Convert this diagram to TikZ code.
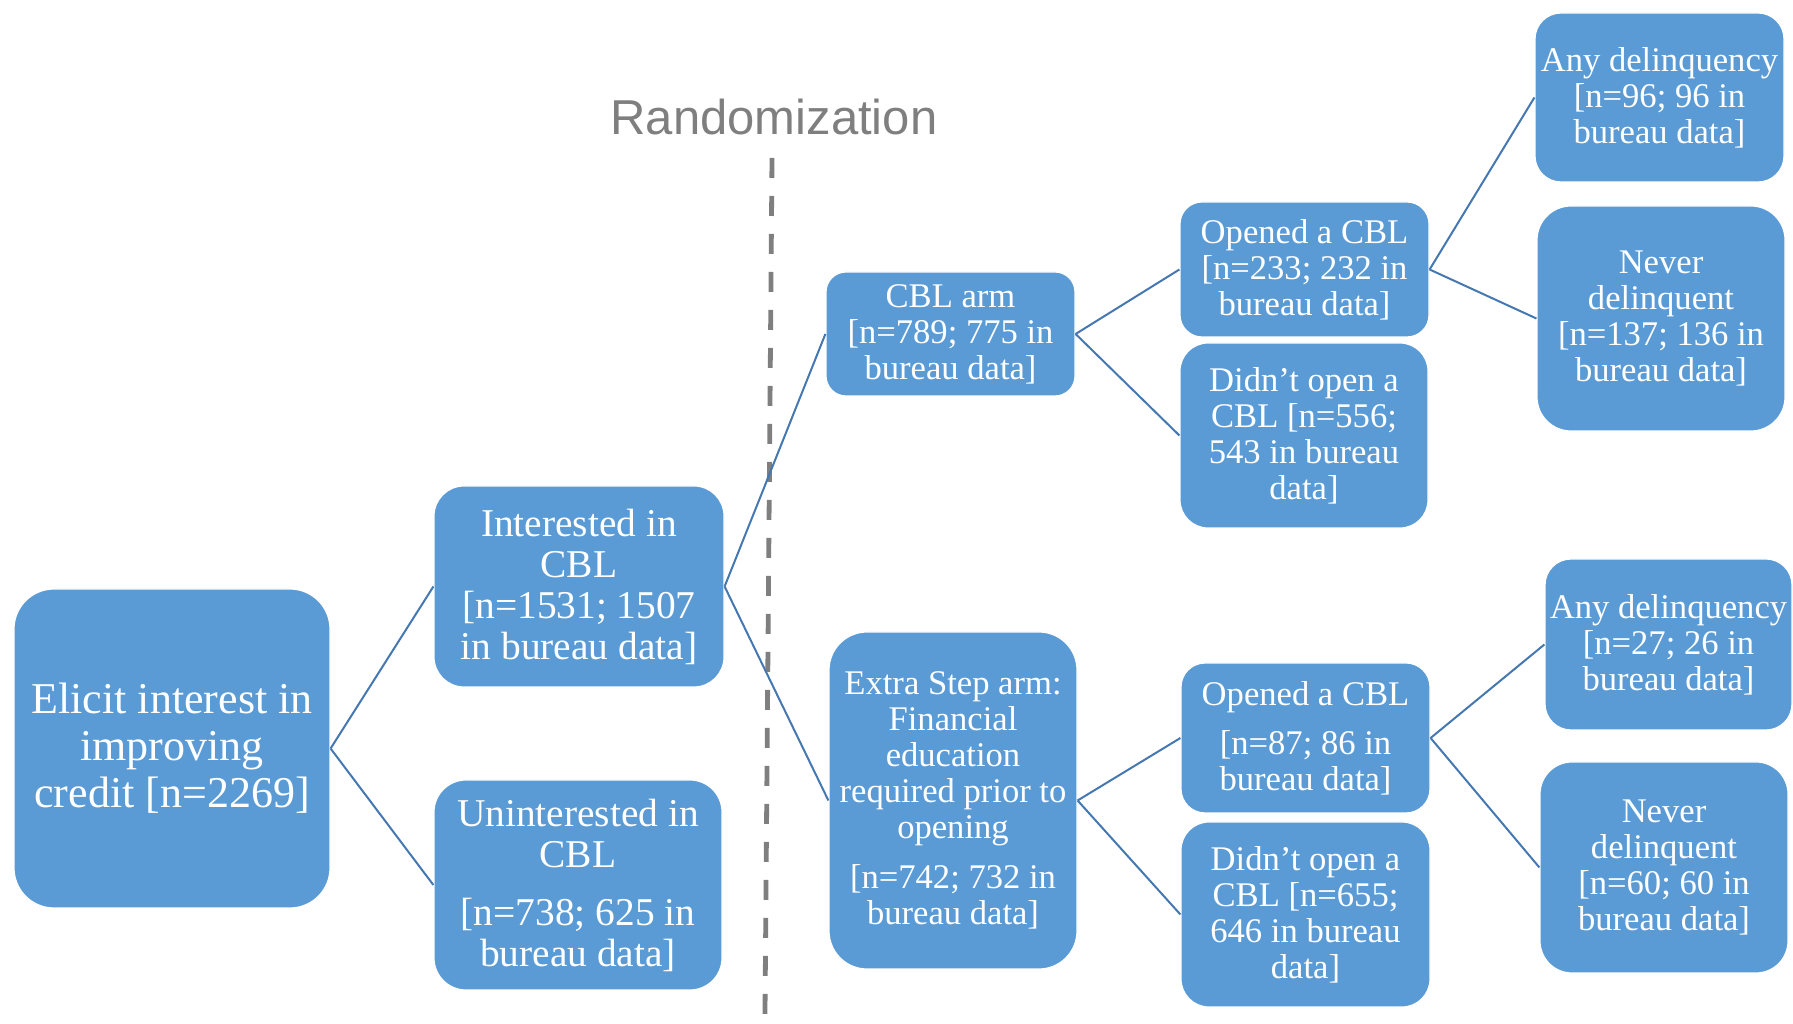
\documentclass[tikz,border=0pt]{standalone}
\usepackage{fontspec}
\setmainfont{Liberation Serif}
\newfontfamily\randfont{Liberation Sans}
\definecolor{boxblue}{HTML}{5B9BD5}
\definecolor{linkblue}{HTML}{4577B0}
\definecolor{randgray}{HTML}{7F7F7F}
\tikzset{
  box/.style={draw=white,line width=0.6bp,fill=boxblue,text=white,align=center,inner sep=0pt},
  bigtxt/.style={font=\fontsize{22bp}{23.5bp}\selectfont},
  midtxt/.style={font=\fontsize{19.7bp}{20.5bp}\selectfont},
  smalltxt/.style={font=\fontsize{17.3bp}{18bp}\selectfont},
  link/.style={linkblue,line width=1bp},
}
\begin{document}
\begin{tikzpicture}[line join=bevel,]
\useasboundingbox (0bp,0bp) rectangle (896.5bp,512bp);
%%
\node (rand) at (387.0bp,453.5bp) [draw=none,text=randgray,font=\randfont\fontsize{24.5bp}{26bp}\selectfont] {Randomization};
\coordinate (randtop) at (386.0bp,433.0bp);
\coordinate (randbot) at (382.4bp,-6bp);
\draw [randgray,line width=2.4bp,dash pattern=on 10bp off 9bp] (randtop) -- (randbot);
%
\node (elicit) at (86.0bp,137.75bp) [box,bigtxt,minimum width=158bp,minimum height=159.5bp,rounded corners=20bp] {Elicit interest in\\improving\\credit [n=2269]};
  \node (interested) at (289.5bp,218.75bp) [box,midtxt,minimum width=145bp,minimum height=100.5bp,rounded corners=15bp] {Interested in\\CBL\\\relax[n=1531; 1507\\in bureau data]};
  \node (uninterested) at (289.0bp,69.5bp) [box,midtxt,minimum width=144bp,minimum height=105bp,rounded corners=16bp] {Uninterested in\\CBL\\[8.5bp]\relax[n=738; 625 in\\bureau data]};
%
\node (cblarm) at (475.25bp,345.0bp) [box,smalltxt,minimum width=124.5bp,minimum height=62bp,rounded corners=10bp] {CBL arm\\\relax[n=789; 775 in\\bureau data]};
  \node (extra) at (476.5bp,111.75bp) [box,smalltxt,minimum width=124bp,minimum height=168.5bp,rounded corners=19bp] {Extra Step arm:\\Financial\\education\\required prior to\\opening\\[7bp]\relax[n=742; 732 in\\bureau data]};
%
\node (opened1) at (652.25bp,377.25bp) [box,smalltxt,minimum width=124.5bp,minimum height=67.5bp,rounded corners=11bp] {Opened a CBL\\\relax[n=233; 232 in\\bureau data]};
  \node (didnt1) at (652.0bp,294.25bp) [box,smalltxt,minimum width=124bp,minimum height=92.5bp,rounded corners=14bp] {Didn’t open a\\CBL [n=556;\\543 in bureau\\data]};
  \node (opened2) at (652.75bp,143.0bp) [box,smalltxt,minimum width=124.5bp,minimum height=75bp,rounded corners=12bp] {Opened a CBL\\[6.5bp]\relax[n=87; 86 in\\bureau data]};
  \node (didnt2) at (652.75bp,54.75bp) [box,smalltxt,minimum width=124.5bp,minimum height=92.5bp,rounded corners=14bp] {Didn’t open a\\CBL [n=655;\\646 in bureau\\data]};
%
\node (anydel1) at (829.75bp,463.25bp) [box,smalltxt,minimum width=124.5bp,minimum height=84.5bp,rounded corners=13bp] {Any delinquency\\\relax[n=96; 96 in\\bureau data]};
  \node (never1) at (830.5bp,352.75bp) [box,smalltxt,minimum width=124bp,minimum height=112.5bp,rounded corners=17bp] {Never\\delinquent\\\relax[n=137; 136 in\\bureau data]};
  \node (anydel2) at (834.25bp,189.75bp) [box,smalltxt,minimum width=123.5bp,minimum height=85.5bp,rounded corners=13bp] {Any delinquency\\\relax[n=27; 26 in\\bureau data]};
  \node (never2) at (832.0bp,78.25bp) [box,smalltxt,minimum width=124bp,minimum height=105.5bp,rounded corners=16bp] {Never\\delinquent\\\relax[n=60; 60 in\\bureau data]};
%
\draw [link] (elicit.east) -- (interested.west);
  \draw [link] (elicit.east) -- (uninterested.west);
  \draw [link] (interested.east) -- (cblarm.west);
  \draw [link] (interested.east) -- (extra.west);
  \draw [link] (cblarm.east) -- (opened1.west);
  \draw [link] (cblarm.east) -- (didnt1.west);
  \draw [link] (extra.east) -- (opened2.west);
  \draw [link] (extra.east) -- (didnt2.west);
  \draw [link] (opened1.east) -- (anydel1.west);
  \draw [link] (opened1.east) -- (never1.west);
  \draw [link] (opened2.east) -- (anydel2.west);
  \draw [link] (opened2.east) -- (never2.west);
%
\end{tikzpicture}
\end{document}
